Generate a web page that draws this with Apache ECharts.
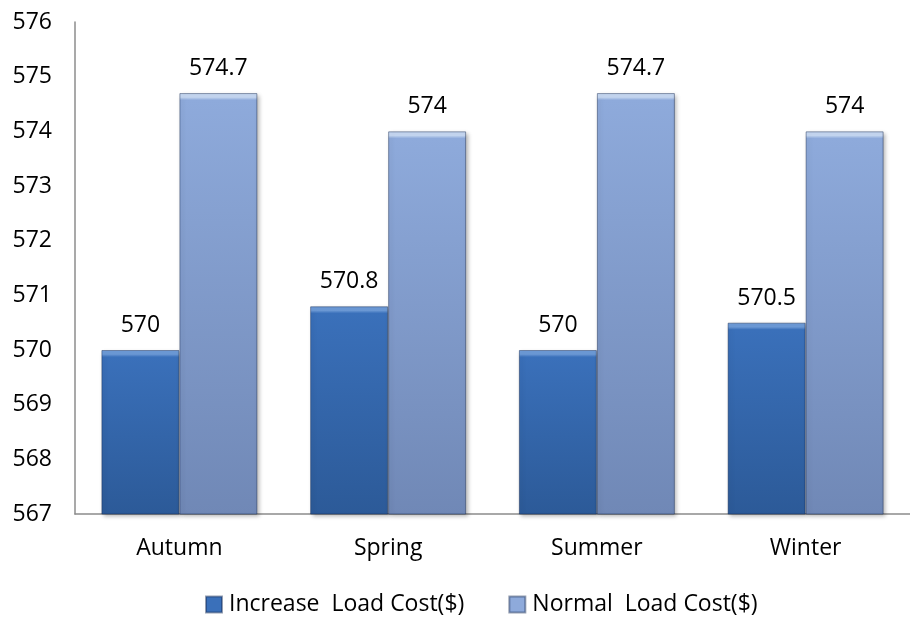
<!DOCTYPE html>
<html>
<head>
<meta charset="utf-8">
<title>Load Cost by Season</title>
<script src="https://cdn.jsdelivr.net/npm/echarts@6/dist/echarts.min.js"></script>
<style>
  html, body { margin: 0; padding: 0; background: #ffffff; }
  #chart { width: 910px; height: 617px; }
</style>
</head>
<body>
<div id="chart"></div>
<script>
// Seasons on the category axis
const seasons = ['Autumn', 'Spring', 'Summer', 'Winter'];
// Load cost per season, in dollars
const increaseLoadCost = [570, 570.8, 570, 570.5];
const normalLoadCost = [574.7, 574, 574.7, 574];
// Series names shown in the legend
const seriesNames = ['Increase  Load Cost($)', 'Normal  Load Cost($)'];

const FONT = '"Open Sans", "DejaVu Sans", sans-serif';
const TEXT = '#000000';
const Y_MIN = 567;
const Y_MAX = 576;
const PLOT_HEIGHT = 492;   // grid height in px (617 - top 22 - bottom 103)
const RIM_PX = 7;          // height of the bright bevel along each bar top

// Bevelled fill: bright rim on top (fixed pixel height), body colour, darker base
function bevel(value, rim, top, bottom) {
  const barPx = (value - Y_MIN) / (Y_MAX - Y_MIN) * PLOT_HEIGHT;
  const edge = Math.min(0.2, RIM_PX / barPx);
  return new echarts.graphic.LinearGradient(0, 0, 0, 1, [
    { offset: 0, color: rim },
    { offset: edge * 0.6, color: rim },
    { offset: edge, color: top },
    { offset: 1, color: bottom }
  ]);
}

function barSeries(name, data, colors) {
  return {
    name: name,
    type: 'bar',
    data: data.map(v => ({
      value: v,
      itemStyle: { color: bevel(v, colors[0], colors[1], colors[2]) }
    })),
    barWidth: 78,
    barGap: '0%',
    itemStyle: {
      color: colors[1],
      borderColor: 'rgba(20, 40, 80, 0.45)',
      borderWidth: 1,
      shadowColor: 'rgba(0, 0, 0, 0.28)',
      shadowBlur: 4,
      shadowOffsetX: 2,
      shadowOffsetY: 2
    },
    label: {
      show: true,
      position: 'top',
      distance: 13,
      fontFamily: FONT,
      fontSize: 23,
      color: TEXT
    }
  };
}

const chart = echarts.init(document.getElementById('chart'), null, { renderer: 'canvas' });

chart.setOption({
  backgroundColor: '#ffffff',
  animation: false,
  grid: { left: 75, right: -15, top: 22, bottom: 103, containLabel: false },
  legend: {
    bottom: -4,
    left: 200,
    itemWidth: 16,
    itemHeight: 16,
    itemGap: 44,
    icon: 'rect',
    textStyle: { fontFamily: FONT, fontSize: 23, color: TEXT, padding: [0, 0, 0, 2] },
    data: [
      { name: seriesNames[0], itemStyle: { color: '#3a70ba' } },
      { name: seriesNames[1], itemStyle: { color: '#8eaadb' } }
    ]
  },
  xAxis: {
    type: 'category',
    data: seasons,
    axisLine: { lineStyle: { color: '#8c8c8c', width: 1.5 } },
    axisTick: { show: false },
    axisLabel: { fontFamily: FONT, fontSize: 23, color: TEXT, margin: 23 }
  },
  yAxis: {
    type: 'value',
    min: Y_MIN,
    max: Y_MAX,
    interval: 1,
    axisLine: { show: true, lineStyle: { color: '#8c8c8c', width: 1.5 } },
    axisTick: { show: false },
    splitLine: { show: false },
    axisLabel: { fontFamily: FONT, fontSize: 23, color: TEXT, margin: 23 }
  },
  series: [
    barSeries(seriesNames[0], increaseLoadCost, ['#6d9bd8', '#3a70ba', '#2c5a98']),
    barSeries(seriesNames[1], normalLoadCost, ['#c6d8f2', '#8eaadb', '#7088b6'])
  ]
});
</script>
</body>
</html>
